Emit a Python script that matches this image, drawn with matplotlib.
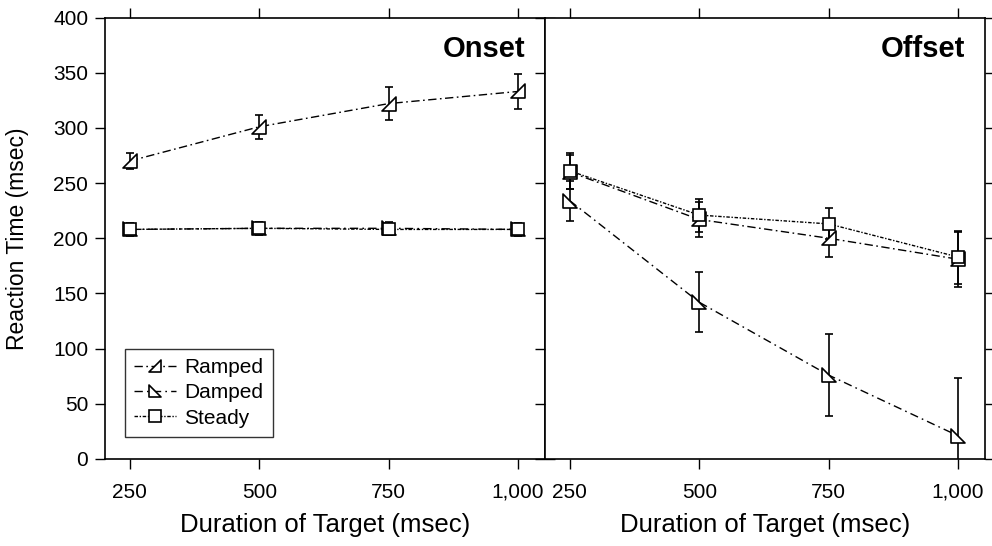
import matplotlib
matplotlib.use("Agg")
import matplotlib.pyplot as plt
from matplotlib.path import Path
from matplotlib.lines import Line2D

plt.rcParams['font.family'] = ['Liberation Sans', 'DejaVu Sans']

durations = [250, 500, 750, 1000]
x_ticklabels = ["250", "500", "750", "1,000"]
y_ticks = [0, 50, 100, 150, 200, 250, 300, 350, 400]

# Onset panel
onset_ramped = [270, 301, 322, 333]
onset_ramped_err = [7, 11, 15, 16]
onset_damped = [208, 209, 209, 208]
onset_damped_err = [6, 6, 6, 6]
onset_steady = [208, 209, 208, 208]
onset_steady_err = [5, 5, 5, 5]

# Offset panel
offset_ramped = [260, 217, 200, 181]
offset_ramped_err = [15, 16, 17, 25]
offset_damped = [234, 142, 76, 21]
offset_damped_err = [18, 27, 37, 52]
offset_steady = [261, 221, 213, 183]
offset_steady_err = [16, 15, 14, 24]

ramped_marker = Path([(-1, -1), (1, -1), (1, 1), (-1, -1)],
                     [Path.MOVETO, Path.LINETO, Path.LINETO, Path.CLOSEPOLY])
damped_marker = Path([(-1, 1), (-1, -1), (1, -1), (-1, 1)],
                     [Path.MOVETO, Path.LINETO, Path.LINETO, Path.CLOSEPOLY])

styles = {
    'Ramped': dict(marker=ramped_marker, ls=(0, (6, 2.5, 1.2, 2.5)), ms=10),
    'Damped': dict(marker=damped_marker, ls=(0, (6, 3, 1.2, 3)), ms=10),
    'Steady': dict(marker='s', ls=(0, (2.5, 1.2, 1, 1.2)), ms=9),
}

fig = plt.figure(figsize=(9.92, 5.46), dpi=100)
W, H = 992, 546
x0, xm, x1 = 105, 545, 985
ytop, ybot = 17.5, 459
axL = fig.add_axes([x0 / W, 1 - ybot / H, (xm - x0) / W, (ybot - ytop) / H])
axR = fig.add_axes([xm / W, 1 - ybot / H, (x1 - xm) / W, (ybot - ytop) / H])

panels = [
    (axL, "Onset", [(onset_ramped, onset_ramped_err, 'Ramped'),
                    (onset_damped, onset_damped_err, 'Damped'),
                    (onset_steady, onset_steady_err, 'Steady')]),
    (axR, "Offset", [(offset_ramped, offset_ramped_err, 'Ramped'),
                     (offset_damped, offset_damped_err, 'Damped'),
                     (offset_steady, offset_steady_err, 'Steady')]),
]

for ax, title, series in panels:
    for vals, errs, name in series:
        st = styles[name]
        ax.errorbar(durations, vals, yerr=errs, color='black', lw=1.0,
                    ls=st['ls'], marker=st['marker'], ms=st['ms'],
                    mfc='white', mec='black', mew=1.2,
                    ecolor='black', elinewidth=1.2, capsize=3, capthick=1.2)
    ax.set_xlim(202, 1052)
    ax.set_ylim(0, 400)
    ax.set_xticks(durations)
    ax.set_xticklabels(x_ticklabels)
    ax.set_yticks(y_ticks)
    ax.tick_params(direction='out', length=7, width=1.0, labelsize=15,
                   top=True, right=True, bottom=True, left=True)
    ax.tick_params(axis='x', pad=10)
    ax.tick_params(axis='y', pad=5)
    for sp in ax.spines.values():
        sp.set_linewidth(1.2)
    ax.text(0.955, 0.91, title, transform=ax.transAxes, ha='right', va='baseline',
            fontsize=21, fontweight='bold')
    ax.set_xlabel("Duration of Target (msec)", fontsize=18.5, labelpad=8)

axL.set_ylabel("Reaction Time (msec)", fontsize=16.5)
axL.yaxis.set_label_coords(-0.173, 0.5)
axR.tick_params(labelleft=False)

handles = [Line2D([], [], color='black', lw=1.0, ls=styles[n]['ls'],
                  marker=styles[n]['marker'], ms=styles[n]['ms'] * 0.9,
                  mfc='white', mec='black', mew=1.2)
           for n in ['Ramped', 'Damped', 'Steady']]
leg = axL.legend(handles=handles, labels=['Ramped', 'Damped', 'Steady'],
                 loc='lower left', bbox_to_anchor=(0.045, 0.05),
                 fontsize=15, frameon=True, fancybox=False, edgecolor='black',
                 handlelength=2.0, handletextpad=0.4, borderpad=0.45, labelspacing=0.3,
                 borderaxespad=0)
leg.get_frame().set_linewidth(1.0)

fig.savefig("out.png", dpi=100)
